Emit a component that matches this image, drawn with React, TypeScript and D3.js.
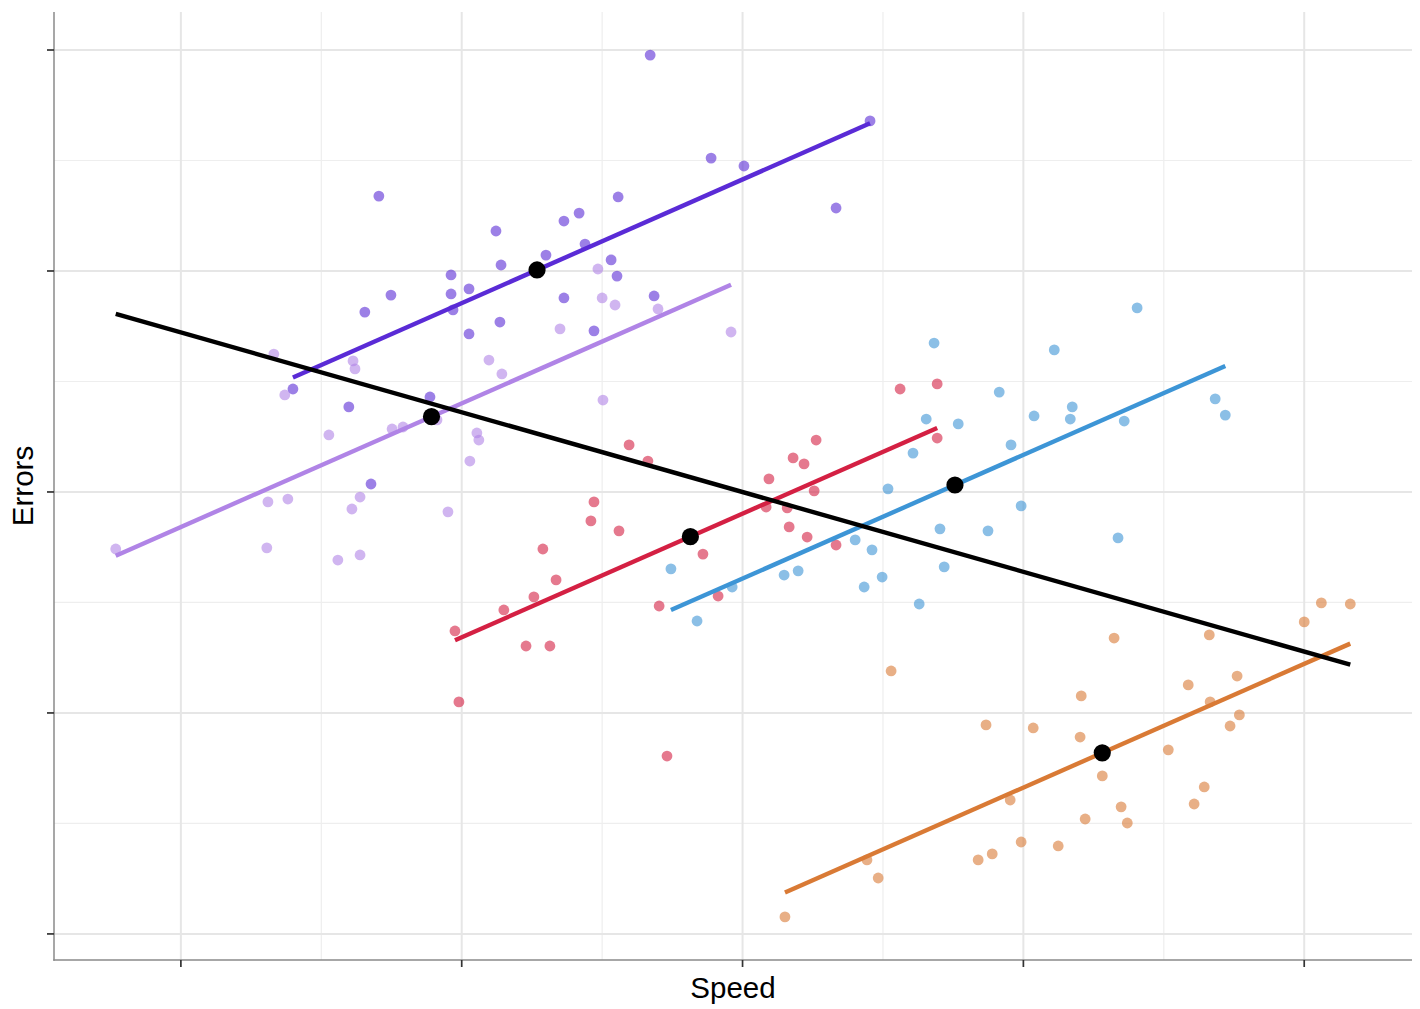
import React from 'react';
import * as d3 from 'd3';

// ---------- data ----------
const groupNames = ['G1', 'G2', 'G3', 'G4', 'G5'];
const lineColors = ['#5a2bd6', '#b084e6', '#d42043', '#3d95d6', '#d97a35'];

const speedG1 = [16.71, 24.54, 18.88, 20.05, 7.05, 15.57, 14.18, 13.64, 11.22, 23.33, 14.39, 13.0, 11.4, 15.32, 9.62, 15.53, 10.26, 9.62, 7.48, 13.64, 16.85, 6.55, 9.69, 11.36, 10.26, 14.71, 3.99, 5.98, 8.87, 6.77];
const errorsG1 = [39.77, 36.79, 35.11, 34.75, 33.39, 33.35, 32.62, 32.26, 31.81, 32.85, 31.22, 30.72, 30.27, 30.5, 29.82, 29.77, 29.19, 28.96, 28.91, 28.78, 28.87, 28.14, 28.24, 27.69, 27.15, 27.29, 24.66, 23.85, 24.3, 20.36];

const speedG2 = [-2.32, 3.06, 3.1, 3.81, 3.31, 3.7, 5.27, 5.59, 6.09, 6.13, 6.2, 6.38, 6.38, 7.52, 7.91, 9.12, 9.51, 10.29, 10.54, 10.61, 10.97, 11.43, 13.5, 14.85, 15.0, 15.03, 15.46, 16.99, 19.59, 12.68];
const errorsG2 = [17.42, 17.47, 19.55, 19.68, 26.24, 24.39, 22.58, 16.92, 19.23, 25.93, 25.57, 19.77, 17.15, 22.85, 22.94, 23.26, 19.1, 21.4, 22.67, 22.35, 25.97, 25.34, 27.38, 30.09, 28.78, 24.16, 28.46, 28.28, 27.24, 30.05];

const speedG3 = [9.76, 9.9, 11.5, 12.29, 12.57, 12.89, 13.14, 13.36, 14.6, 14.71, 15.6, 15.96, 16.63, 17.03, 17.31, 18.59, 19.13, 20.84, 20.94, 21.59, 21.66, 21.8, 22.19, 22.3, 22.55, 22.62, 23.33, 25.61, 26.93, 26.93];
const errorsG3 = [13.71, 10.5, 14.66, 13.03, 15.25, 17.42, 13.03, 16.02, 18.69, 19.55, 18.24, 22.13, 21.4, 14.84, 8.05, 17.19, 15.29, 19.32, 20.59, 19.28, 18.42, 21.54, 21.27, 17.96, 20.05, 22.35, 17.6, 24.66, 24.89, 22.44];

const speedG4 = [17.45, 18.38, 19.63, 21.48, 21.98, 24.01, 24.33, 24.61, 24.97, 25.18, 26.07, 26.29, 26.54, 26.82, 27.03, 27.18, 27.68, 28.74, 29.14, 29.56, 29.92, 30.38, 31.1, 31.67, 31.74, 33.37, 33.59, 34.05, 36.83, 37.19];
const errorsG4 = [16.52, 14.16, 15.7, 16.24, 16.43, 17.83, 15.7, 17.38, 16.15, 20.14, 21.76, 14.93, 23.3, 26.74, 18.33, 16.61, 23.08, 18.24, 24.52, 22.13, 19.37, 23.44, 26.43, 23.3, 23.85, 17.92, 23.21, 28.33, 24.21, 23.48];

const speedG5 = [40.61, 41.64, 40.0, 33.23, 36.62, 25.29, 37.61, 35.87, 32.06, 36.65, 37.69, 37.36, 28.67, 30.35, 32.02, 35.16, 32.81, 36.44, 36.08, 33.48, 33.7, 32.2, 29.92, 31.24, 28.89, 28.39, 29.53, 24.43, 24.83, 21.51];
const errorsG5 = [14.98, 14.93, 14.12, 13.39, 13.53, 11.9, 11.67, 11.27, 10.77, 10.5, 9.91, 9.41, 9.46, 9.32, 8.91, 8.33, 7.15, 6.65, 5.88, 5.75, 5.02, 5.2, 4.16, 3.98, 3.62, 3.35, 6.06, 3.35, 2.53, 0.77];

const speeds = [speedG1, speedG2, speedG3, speedG4, speedG5];
const errors = [errorsG1, errorsG2, errorsG3, errorsG4, errorsG5];

const majorTicks = [0, 10, 20, 30, 40];
const minorTicks = [5, 15, 25, 35];

// ---------- layout ----------
const W = 1420;
const H = 1009;
const panel = { left: 54, right: 1412, top: 12, bottom: 960 };
const FONT = "'Liberation Sans', Arial, Helvetica, sans-serif";

type Pt = { x: number; y: number };

export default function App() {
  const groups = groupNames.map((name, i) => ({
    name,
    color: lineColors[i],
    pts: speeds[i].map((s, j) => ({ x: s, y: errors[i][j] })) as Pt[],
  }));
  const all = groups.flatMap((g) => g.pts);

  const xExt = d3.extent(all, (d) => d.x) as [number, number];
  const yExt = d3.extent(all, (d) => d.y) as [number, number];
  const xPad = (xExt[1] - xExt[0]) * 0.05;
  const yPad = (yExt[1] - yExt[0]) * 0.05;

  const x = d3.scaleLinear().domain([xExt[0] - xPad, xExt[1] + xPad]).range([panel.left, panel.right]);
  const y = d3.scaleLinear().domain([yExt[0] - yPad, yExt[1] + yPad]).range([panel.bottom, panel.top]);

  // group means and pooled within-group slope
  const stats = groups.map((g) => ({
    mx: d3.mean(g.pts, (d) => d.x) as number,
    my: d3.mean(g.pts, (d) => d.y) as number,
    minx: d3.min(g.pts, (d) => d.x) as number,
    maxx: d3.max(g.pts, (d) => d.x) as number,
  }));
  let num = 0;
  let den = 0;
  groups.forEach((g, i) => {
    g.pts.forEach((p) => {
      num += (p.x - stats[i].mx) * (p.y - stats[i].my);
      den += (p.x - stats[i].mx) ** 2;
    });
  });
  const pooledSlope = num / den;

  // overall OLS
  const amx = d3.mean(all, (d) => d.x) as number;
  const amy = d3.mean(all, (d) => d.y) as number;
  const oNum = d3.sum(all, (d) => (d.x - amx) * (d.y - amy));
  const oDen = d3.sum(all, (d) => (d.x - amx) ** 2);
  const overallSlope = oNum / oDen;

  const line = d3
    .line<Pt>()
    .x((d) => x(d.x))
    .y((d) => y(d.y));

  const groupLines = groups.map((g, i) => {
    const s = stats[i];
    return [
      { x: s.minx, y: s.my + pooledSlope * (s.minx - s.mx) },
      { x: s.maxx, y: s.my + pooledSlope * (s.maxx - s.mx) },
    ];
  });
  const overallLine = [
    { x: xExt[0], y: amy + overallSlope * (xExt[0] - amx) },
    { x: xExt[1], y: amy + overallSlope * (xExt[1] - amx) },
  ];

  return (
    <div style={{ position: 'absolute', left: 0, top: 0 }}>
      <svg width={W} height={H} style={{ display: 'block', background: '#fff' }}>
        <rect x={0} y={0} width={W} height={H} fill="#ffffff" />
        {/* minor grid */}
        <g>
          {minorTicks.map((t) => (
            <line key={'mx' + t} x1={x(t)} x2={x(t)} y1={panel.top} y2={panel.bottom} stroke="#eeeeee" strokeWidth={1.2} />
          ))}
          {minorTicks.map((t) => (
            <line key={'my' + t} y1={y(t)} y2={y(t)} x1={panel.left} x2={panel.right} stroke="#eeeeee" strokeWidth={1.2} />
          ))}
        </g>
        {/* major grid */}
        <g>
          {majorTicks.map((t) => (
            <line key={'Mx' + t} x1={x(t)} x2={x(t)} y1={panel.top} y2={panel.bottom} stroke="#e6e6e6" strokeWidth={2} />
          ))}
          {majorTicks.map((t) => (
            <line key={'My' + t} y1={y(t)} y2={y(t)} x1={panel.left} x2={panel.right} stroke="#e6e6e6" strokeWidth={2} />
          ))}
        </g>
        {/* points */}
        <g>
          {groups.map((g) =>
            g.pts.map((p, j) => (
              <circle key={g.name + j} cx={x(p.x)} cy={y(p.y)} r={5.4} fill={g.color} fillOpacity={0.6} />
            ))
          )}
        </g>
        {/* group fit lines */}
        <g>
          {groups.map((g, i) => (
            <path key={'l' + g.name} d={line(groupLines[i]) || ''} stroke={g.color} strokeWidth={4.4} fill="none" />
          ))}
        </g>
        {/* overall fit */}
        <path d={line(overallLine) || ''} stroke="#000" strokeWidth={4.4} fill="none" />
        {/* group means */}
        <g>
          {stats.map((s, i) => (
            <circle key={'m' + i} cx={x(s.mx)} cy={y(s.my)} r={8.6} fill="#000" />
          ))}
        </g>
        {/* axes */}
        <line x1={panel.left} x2={panel.left} y1={panel.top} y2={panel.bottom + 0.7} stroke="#8a8a8a" strokeWidth={1.5} />
        <line x1={panel.left - 0.7} x2={panel.right} y1={panel.bottom} y2={panel.bottom} stroke="#8a8a8a" strokeWidth={1.5} />
        {majorTicks.map((t) => (
          <line key={'tx' + t} x1={x(t)} x2={x(t)} y1={panel.bottom} y2={panel.bottom + 7} stroke="#333" strokeWidth={1.7} />
        ))}
        {majorTicks.map((t) => (
          <line key={'ty' + t} x1={panel.left - 7} x2={panel.left} y1={y(t)} y2={y(t)} stroke="#333" strokeWidth={1.7} />
        ))}
        {/* titles */}
        <text x={(panel.left + panel.right) / 2} y={998} textAnchor="middle" fontFamily={FONT} fontSize={29.5} fill="#000">
          Speed
        </text>
        <text
          transform={`translate(32.5, ${(panel.top + panel.bottom) / 2}) rotate(-90)`}
          textAnchor="middle"
          fontFamily={FONT}
          fontSize={29.5}
          fill="#000"
        >
          Errors
        </text>
      </svg>
    </div>
  );
}
